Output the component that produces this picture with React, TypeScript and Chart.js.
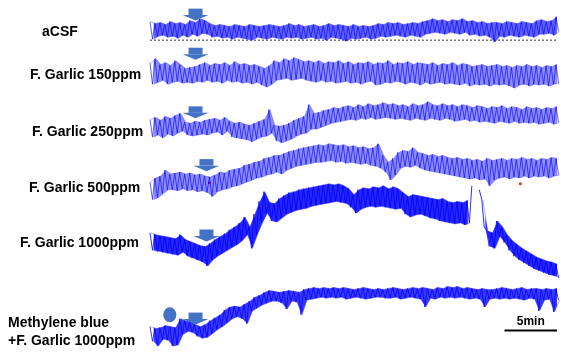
import React, { useEffect, useRef } from "react";
import { Chart, registerables } from "chart.js";

Chart.register(...registerables);

// ---- time axis: one reading every 0.5 min, traces 41 min long ----
const STEP_MIN = 0.5;
const TOTAL_MIN = 41.1;

// ---- trace labels ----
const traceLabels = [
  ["aCSF"],
  ["F. Garlic 150ppm"],
  ["F. Garlic 250ppm"],
  ["F. Garlic 500ppm"],
  ["F. Garlic 1000ppm"],
  ["Methylene blue", "+F. Garlic 1000ppm"],
];

// ---- signal envelopes (upper / lower extent of the noisy trace, a.u.) ----
const acsfHi = [19,17,18,16,19,17,18,16,20,18,22,20,17,15,16,15,14,16,15,14,16,15,14,15,16,15,14,15,17,15,16,14,15,16,14,15,17,15,16,15,14,16,14,15,14,15,17,16,18,17,18,16,17,18,17,19,20,22,20,21,19,21,20,22,19,20,18,19,17,18,18,17,19,18,17,19,18,17,20,21,19,20,24];
const acsfLo = [1,4,5,3,4,2,5,3,6,4,7,6,3,4,2,3,1,3,2,1,0,3,2,1,3,2,1,3,2,3,1,2,3,1,2,0,3,2,1,-1,2,1,2,3,1,2,4,3,4,5,4,3,5,4,3,6,7,8,7,6,8,7,6,8,5,6,4,5,3,-2,4,3,5,4,3,5,4,3,6,6,7,5,9];

const g150Hi = [25,29,23,25,22,27,23,19,20,21,23,25,22,24,23,25,22,26,23,24,22,23,21,19,22,27,25,29,27,30,28,26,27,25,27,24,26,25,27,24,26,23,25,24,26,23,25,24,27,23,25,24,26,23,25,24,23,25,22,24,23,25,22,24,23,21,22,23,21,22,23,21,22,20,22,21,23,21,22,20,22,21,23];
const g150Lo = [3,5,7,3,5,6,4,5,4,6,5,7,5,6,4,7,5,6,4,5,3,5,2,0,3,7,8,9,7,8,9,7,6,5,7,5,6,4,5,6,4,5,3,5,6,2,3,5,4,6,5,3,5,4,2,5,3,4,5,3,4,3,2,4,1,3,2,3,1,3,2,3,1,-1,2,3,1,3,2,3,1,3,4];

const g250Hi = [27,29,26,30,28,31,33,24,23,25,24,26,27,28,26,29,25,23,24,22,21,23,25,27,37,21,20,21,23,26,28,30,42,33,34,36,37,39,38,40,41,39,42,40,43,41,42,44,42,43,41,42,40,43,41,42,45,42,41,43,41,42,40,42,41,39,41,40,38,40,39,41,38,40,39,37,40,38,39,37,39,38,40];
const g250Lo = [9,11,8,12,10,13,15,11,10,11,12,11,13,14,11,15,9,8,7,6,4,7,9,10,13,5,3,5,7,10,12,13,17,17,19,21,23,24,25,26,27,26,28,27,29,27,28,29,28,27,28,27,26,28,27,26,28,27,26,28,27,25,26,27,25,26,24,25,24,23,25,24,23,25,23,24,23,24,22,23,24,22,24];

const g500Hi = [18,22,24,30,26,27,28,26,27,25,26,24,23,25,28,27,30,31,32,35,36,38,39,42,43,45,45,47,49,50,52,53,54,55,56,55,57,56,55,56,54,55,53,54,52,53,57,45,38,42,48,50,49,53,48,47,45,46,44,45,43,42,43,41,42,40,41,39,42,40,41,42,40,42,41,43,41,42,40,42,41,43,42];
const g500Lo = [0,2,6,10,10,9,11,9,10,8,9,7,3,8,10,11,13,14,16,18,20,22,23,25,26,28,26,30,32,34,35,36,37,38,38,39,40,38,39,37,38,37,36,37,35,34,32,28,20,25,32,34,33,35,32,30,29,28,27,26,25,24,23,22,21,22,20,21,14,20,22,23,21,23,22,24,22,24,23,24,22,24,25];

const g1000Hi = [46,44,43,42,41,40,44,39,37,35,33,32,35,39,42,45,49,52,56,62,52,65,78,88,77,76,81,84,87,88,90,91,92,93,94,95,96,95,96,94,91,85,90,92,91,93,92,94,91,93,91,87,83,85,84,83,82,81,80,81,78,77,78,77,79,94,null,80,48,46,58,52,44,38,34,30,27,24,21,19,17,16,14];
const g1000Lo = [28,27,26,25,24,23,26,22,20,18,16,12,18,22,25,28,31,34,38,44,30,44,56,66,58,57,61,65,67,69,70,71,73,74,75,76,77,78,77,76,72,66,70,72,73,72,73,72,71,70,71,65,62,64,65,63,61,60,58,57,56,55,56,54,56,null,90,52,32,30,42,36,28,22,18,15,12,9,7,5,3,2,0];

const mbHi = [20,18,19,21,20,19,28,26,25,22,20,22,26,29,32,37,40,41,40,43,46,50,52,55,57,56,55,56,57,56,55,58,59,60,59,60,59,60,59,60,59,58,59,60,59,58,59,58,59,60,59,58,59,60,59,60,59,58,60,59,61,60,61,59,60,59,58,59,58,58,59,60,59,58,59,60,58,59,59,58,59,58,59];
const mbLo = [5,0,7,6,0,1,12,15,14,10,8,9,13,17,20,24,28,30,28,23,36,39,42,44,46,46,44,38,46,45,32,47,48,49,50,49,50,49,50,48,49,50,49,48,49,50,50,49,49,50,48,49,50,49,48,40,49,48,50,49,50,49,50,49,48,49,48,40,48,49,48,49,48,49,48,47,49,48,36,47,48,35,47];

// ---- event markers (minutes) ----
const arrowTimes = [4.6, 4.6, 4.6, 5.7, 5.7, 4.6];
const methyleneBlueTime = 2.0;
const scaleBarMinutes = [35.8, 41.1];
const scaleBarLabel = "5min";

// ---- layout (vertical offsets of each trace on the shared y scale) ----
const traceOffsets = [317, 269, 209, 154, 74, 4];
const arrowTipLevels = [337, 297, 237, 183, 111, 26];
const labelLeft = [42, 30, 32, 29, 20, 8];
const labelLevels = [325, 281, 223, 166, 109, 27];
const mbCircleLevel = 36;
const scaleBarLevel = 20;
const scaleLabelLevel = 29;
const artifactTimes = [6.0, 37.4];
const artifactLevels = [171, 170];

type Pt = { x: number; y: number | null };

function zigzag(hi: (number | null)[], lo: (number | null)[], offset: number): Pt[] {
  const pts: Pt[] = [];
  for (let i = 0; i < hi.length; i++) {
    const t = i * STEP_MIN;
    pts.push({ x: t, y: hi[i] == null ? null : offset + (hi[i] as number) });
    pts.push({ x: t + STEP_MIN / 2, y: lo[i] == null ? null : offset + (lo[i] as number) });
  }
  return pts;
}

function edge(vals: (number | null)[], other: (number | null)[], offset: number, shift: number): Pt[] {
  return vals.map((v, i) => ({
    x: i * STEP_MIN + shift,
    y: v == null || other[i] == null ? null : offset + (v as number),
  }));
}

const traces = [
  [acsfHi, acsfLo],
  [g150Hi, g150Lo],
  [g250Hi, g250Lo],
  [g500Hi, g500Lo],
  [g1000Hi, g1000Lo],
  [mbHi, mbLo],
];

const bandFill = [0.62, 0.45, 0.45, 0.45, 0.85, 0.78];
const traceAlpha = [0.7, 0.7, 0.7, 0.7, 0.9, 0.85];

const ARROW = "#4472C4";

const annotate = {
  id: "annotate",
  afterDatasetsDraw(chart: any) {
    const { ctx, scales } = chart;
    const xs = scales.x;
    const ys = scales.y;
    ctx.save();
    ctx.fillStyle = ARROW;
    arrowTimes.forEach((t, i) => {
      const cx = xs.getPixelForValue(t);
      const tip = ys.getPixelForValue(arrowTipLevels[i]);
      ctx.beginPath();
      ctx.rect(cx - 7, tip - 12, 14, 6.5);
      ctx.fill();
      ctx.beginPath();
      ctx.moveTo(cx - 13, tip - 5.5);
      ctx.lineTo(cx + 13, tip - 5.5);
      ctx.lineTo(cx, tip);
      ctx.closePath();
      ctx.fill();
    });
    ctx.beginPath();
    ctx.ellipse(xs.getPixelForValue(methyleneBlueTime), ys.getPixelForValue(mbCircleLevel), 6.5, 7.5, 0, 0, Math.PI * 2);
    ctx.fill();
    ctx.fillStyle = "#000";
    ctx.font = "bold 14px 'Liberation Sans', Arial, sans-serif";
    ctx.textBaseline = "middle";
    ctx.textAlign = "left";
    traceLabels.forEach((lines, i) => {
      const y0 = ys.getPixelForValue(labelLevels[i]);
      lines.forEach((ln, j) => {
        ctx.fillText(ln, labelLeft[i], y0 + j * 18);
      });
    });
    ctx.font = "bold 12px 'Liberation Sans', Arial, sans-serif";
    ctx.textAlign = "center";
    ctx.fillText(
      scaleBarLabel,
      xs.getPixelForValue((scaleBarMinutes[0] + scaleBarMinutes[1]) / 2),
      ys.getPixelForValue(scaleLabelLevel)
    );
    ctx.restore();
  },
};

export default function App() {
  const ref = useRef<HTMLCanvasElement | null>(null);
  useEffect(() => {
    if (!ref.current) return;
    const datasets: any[] = [];
    traces.forEach(([hi, lo], i) => {
      datasets.push({
        type: "line",
        data: edge(hi, lo, traceOffsets[i], 0.1),
        borderColor: "rgba(60,60,255,0.4)",
        borderWidth: 1,
        pointRadius: 0,
        tension: 0,
        spanGaps: false,
        clip: false,
        fill: false,
      });
      datasets.push({
        type: "line",
        data: edge(lo, hi, traceOffsets[i], 0.35),
        borderColor: "rgba(60,60,255,0.4)",
        borderWidth: 1,
        pointRadius: 0,
        tension: 0,
        spanGaps: false,
        clip: false,
        fill: { target: "-1" },
        backgroundColor: `rgba(0,0,255,${bandFill[i]})`,
      });
      datasets.push({
        type: "line",
        data: zigzag(hi, lo, traceOffsets[i]),
        borderColor: `rgba(0,0,235,${traceAlpha[i]})`,
        borderWidth: 0.9,
        pointRadius: 0,
        tension: 0,
        spanGaps: false,
        clip: false,
        fill: false,
      });
    });
    datasets.push({
      type: "line",
      data: [
        { x: 0, y: traceOffsets[0] },
        { x: TOTAL_MIN, y: traceOffsets[0] },
      ],
      borderColor: "#333",
      borderWidth: 1,
      borderDash: [2, 2],
      pointRadius: 0,
      clip: false,
      fill: false,
    });
    datasets.push({
      type: "line",
      data: [
        { x: scaleBarMinutes[0], y: scaleBarLevel },
        { x: scaleBarMinutes[1], y: scaleBarLevel },
      ],
      borderColor: "#000",
      borderWidth: 2,
      pointRadius: 0,
      clip: false,
      fill: false,
    });
    datasets.push({
      type: "scatter",
      data: artifactTimes.map((t, i) => ({ x: t, y: artifactLevels[i] })),
      backgroundColor: "#ff2020",
      borderWidth: 0,
      pointRadius: 1.5,
      clip: false,
    });
    const chart = new Chart(ref.current, {
      type: "line",
      data: { datasets },
      options: {
        responsive: false,
        maintainAspectRatio: false,
        animation: false,
        events: [],
        layout: { padding: { left: 150, right: 0, top: 0, bottom: 0 } },
        plugins: { legend: { display: false }, tooltip: { enabled: false } },
        scales: {
          x: { type: "linear", display: false, min: 0, max: TOTAL_MIN },
          y: { type: "linear", display: false, min: 0, max: 354 },
        },
      },
      plugins: [annotate],
    });
    return () => chart.destroy();
  }, []);
  return (
    <div style={{ position: "absolute", left: 0, top: 0, width: 561, height: 354, background: "#fff" }}>
      <canvas ref={ref} width={561} height={354} style={{ width: 561, height: 354 }} />
    </div>
  );
}
